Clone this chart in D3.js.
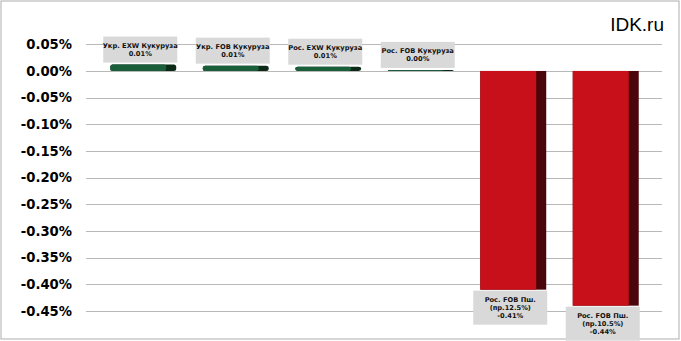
<!DOCTYPE html>
<html><head><meta charset="utf-8">
<script src="https://cdn.jsdelivr.net/npm/d3@7"></script>
<style>body{margin:0;background:#fff}svg{display:block}</style>
</head><body>
<svg id="c" width="681" height="341"></svg>
<script>
const categories = [
  ["Укр. EXW Кукуруза"],
  ["Укр. FOB Кукуруза"],
  ["Рос. EXW Кукуруза"],
  ["Рос. FOB Кукуруза"],
  ["Рос. FOB Пш.", "(пр.12.5%)"],
  ["Рос. FOB Пш.", "(пр.10.5%)"]
];
const values = [0.012, 0.010, 0.008, 0.002, -0.41, -0.44];
const yTicks = [0.05, 0, -0.05, -0.10, -0.15, -0.20, -0.25, -0.30, -0.35, -0.40, -0.45];
const colorsFront = ["#1b5e3a", "#1b5e3a", "#1b5e3a", "#1b5e3a", "#c8101a", "#c8101a"];
const colorsSide = ["#0d2a19", "#0d2a19", "#0d2a19", "#0d2a19", "#4a060b", "#4a060b"];

const svg = d3.select("#c");
svg.append("rect").attr("x", 1).attr("y", 1).attr("width", 678).attr("height", 338)
  .attr("fill", "#fff").attr("stroke", "#c0c0c0").attr("stroke-width", 1.3);

const y = d3.scaleLinear().domain([-0.45, 0.05]).range([311, 44.3]);
const x = d3.scaleBand().domain(d3.range(categories.length)).range([92, 647])
  .paddingInner(0.395).paddingOuter(0.1975);

// gridlines
svg.append("g").selectAll("line").data(yTicks).join("line")
  .attr("x1", 86).attr("x2", 662)
  .attr("y1", d => Math.round(y(d)) + 0.5).attr("y2", d => Math.round(y(d)) + 0.5)
  .attr("stroke", "#b8b8b8").attr("stroke-width", 1);

// y axis labels
const fmt = d => (d < 0 ? "-" : "") + Math.abs(d).toFixed(2) + "%";
svg.append("g").selectAll("text").data(yTicks).join("text")
  .attr("x", 72).attr("y", d => y(d)).attr("dy", "0.36em")
  .attr("text-anchor", "end")
  .attr("font-family", "DejaVu Sans, Tahoma, sans-serif").attr("font-weight", "bold")
  .attr("font-size", 13.2).attr("fill", "#000")
  .text(fmt);

// bars
const depth = 10;
const bars = svg.append("g").selectAll("g").data(values).join("g");
bars.append("rect")
  .attr("x", (d, i) => x(i)).attr("width", x.bandwidth() + depth)
  .attr("y", d => y(Math.max(0, d))).attr("height", d => Math.max(1, Math.abs(y(d) - y(0))))
  .attr("rx", (d) => d > 0 ? 2.5 : 0)
  .attr("fill", (d, i) => colorsSide[i]);
bars.append("rect")
  .attr("x", (d, i) => x(i)).attr("width", x.bandwidth())
  .attr("y", d => y(Math.max(0, d))).attr("height", d => Math.max(1, Math.abs(y(d) - y(0))))
  .attr("rx", (d) => d > 0 ? 2.5 : 0)
  .attr("fill", (d, i) => colorsFront[i]);

// labels
const lbl = svg.append("g").selectAll("g").data(values).join("g")
  .attr("transform", (d, i) => {
    const cx = x(i) + x.bandwidth() / 2 + 2;
    return `translate(${cx},0)`;
  });
lbl.each(function (d, i) {
  const g = d3.select(this);
  const lines = categories[i].concat([fmt(d)]);
  const lh = 8;
  const h = lines.length * lh + 10;
  const w = 74;
  const top = d >= 0 ? y(d) - 2 - h : y(d) + 1;
  g.append("rect").attr("x", -w / 2).attr("y", top).attr("width", w).attr("height", h)
    .attr("fill", "#d9d9d9");
  g.selectAll("text").data(lines).join("text")
    .attr("x", 0).attr("y", (t, k) => top + 5 + lh * k + lh / 2).attr("dy", "0.36em")
    .attr("text-anchor", "middle")
    .attr("font-family", "DejaVu Sans, Tahoma, sans-serif").attr("font-weight", "bold")
    .attr("font-size", 6.7).attr("fill", "#111")
    .text(t => t);
});

svg.append("text").attr("x", 664).attr("y", 31).attr("text-anchor", "end")
  .attr("font-family", "Liberation Sans, Arial, sans-serif").attr("font-size", 19)
  .attr("fill", "#000").text("IDK.ru");
</script>
</body></html>
